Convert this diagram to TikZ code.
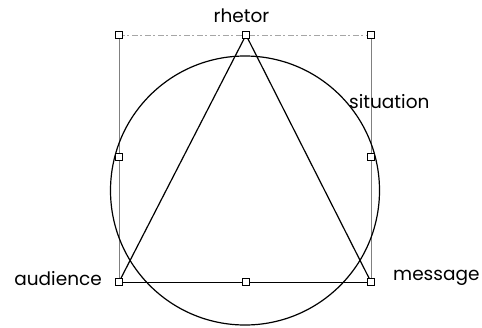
\documentclass[tikz,border=0pt]{standalone}
\usepackage{fontspec}
\setmainfont{Poppins}
\begin{document}
\begin{tikzpicture}[x=1pt,y=-1pt,
  handle/.style={draw,fill=white,minimum size=7pt,inner sep=0pt,line width=0.7pt},
  lbl/.style={font=\fontsize{18.5}{22}\selectfont,inner sep=0pt},
  framev/.style={gray,line width=0.5pt},
  frameh/.style={gray!70,line width=0.5pt,dash pattern=on 6pt off 2pt on 2pt off 3pt},
  figline/.style={black,line width=1.2pt},
  baseline/.style={black,line width=0.9pt}]
\useasboundingbox (0,0) rectangle (482,327);
% handles (positions)
\coordinate (tl) at (119,35);
\coordinate (tc) at (246,35);
\coordinate (tr) at (371,35);
\coordinate (ml) at (119,157);
\coordinate (mr) at (371,157);
\coordinate (bl) at (119,282);
\coordinate (bc) at (246,282);
\coordinate (br) at (371,282);
\coordinate (ctr) at (245,190.5);
% frame
\draw[frameh] (tl) -- (tr);
\draw[framev] (tl) -- (bl);
\draw[framev] (tr) -- (br);
% circle
\draw[figline] (ctr) circle[radius=134.5];
% triangle
\draw[figline,line join=miter] (bl) -- (tc) -- (br);
\draw[baseline] (bl) -- (br);
% handle squares
\foreach \p in {tl,tc,tr,ml,mr,bl,bc,br}
  \node[handle] (h\p) at (\p) {};
% labels
\node[lbl,anchor=base] (rhetor) at (241.5,22) {rhetor};
\node[lbl,anchor=base west] (situation) at (349,108) {situation};
\node[lbl,anchor=base east] (audience) at (102,285) {audience};
\node[lbl,anchor=base west] (message) at (393,280) {message};
\end{tikzpicture}
\end{document}
